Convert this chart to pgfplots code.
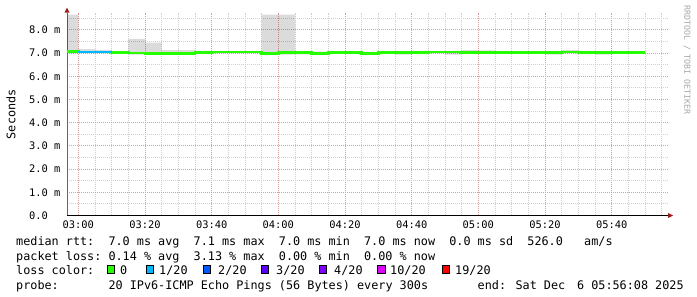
\documentclass[border=0pt]{standalone}
\usepackage{fontspec}
\setmainfont{DejaVu Sans Mono}
\setmonofont{DejaVu Sans Mono}
\usepackage{pgfplots}
\usepackage{pgfplotstable}
\pgfplotsset{compat=1.18}
\usetikzlibrary{arrows.meta}

\definecolor{lgreen}{HTML}{26FF00}
\definecolor{c1}{HTML}{00B8FF}
\definecolor{c2}{HTML}{0059FF}
\definecolor{c3}{HTML}{5E00FF}
\definecolor{c4}{HTML}{7E00FF}
\definecolor{c10}{HTML}{DD00FF}
\definecolor{c19}{HTML}{FF0000}
\definecolor{mgridc}{HTML}{E49A9A}
\definecolor{gridc}{HTML}{D0D0D0}
\definecolor{arrowred}{HTML}{9A1E1E}
\definecolor{wm}{HTML}{A8A8A8}

\newcommand\lf{\fontsize{11.8bp}{14bp}\selectfont}
\newcommand\tf{\fontsize{10.4bp}{12bp}\selectfont}

\pgfplotstableread{
t     med   lo    d
-3.4  7.06  6.99  1.67
0     7.06  6.99  1.67
5     7.05  7.00  0.17
10    7.05  7.00  0.14
15    7.03  7.00  0.05
20    7.00  6.94  0.67
25    6.99  6.95  0.50
30    6.99  6.96  0.17
35    6.99  6.96  0.17
40    7.03  6.97  0.12
45    7.04  7.00  0.09
50    7.04  7.00  0.09
55    7.04  7.00  0.08
60    6.98  6.95  1.71
65    7.03  6.93  1.73
70    7.03  6.95  0.12
75    6.98  6.95  0.11
80    7.02  7.00  0.05
85    7.02  7.00  0.05
90    6.98  6.96  0.07
95    7.02  7.00  0.07
100   7.02  6.93  0.12
105   7.03  7.00  0.10
110   7.04  7.00  0.07
115   7.04  6.93  0.14
120   7.03  7.00  0.13
125   7.03  7.00  0.12
130   7.03  7.00  0.05
135   7.02  7.00  0.04
140   7.02  7.00  0.04
145   7.02  6.93  0.12
150   7.04  7.00  0.13
155   7.02  6.98  0.12
160   7.02  6.93  0.11
165   7.02  7.00  0.04
170   7.02  7.00  0.04
}\rtt

\pgfplotsset{
  geom/.style={
    at={(67bp,81.5bp)}, anchor=south west,
    scale only axis, width=601bp, height=202.5bp,
    xmin=-3.4, xmax=176.9, ymin=0, ymax=8.73,
    enlargelimits=false,
  }
}

\begin{document}
\begin{tikzpicture}
\path[use as bounding box] (0bp,0bp) rectangle (697bp,297bp);
\fill[white] (0bp,0bp) rectangle (697bp,297bp);
\begin{axis}[
  geom,
  axis lines*=left,
  x axis line style={draw=black, line width=1bp},
  y axis line style={draw=gray!80!black, line width=1bp},
  major tick length=0pt, minor tick length=0pt,
  xtick={0,20,...,160},
  xticklabels={03:00,03:20,03:40,04:00,04:20,04:40,05:00,05:20,05:40},
  minor xtick={5,10,15,25,30,35,45,50,55,65,70,75,85,90,95,105,110,115,125,130,135,145,150,155,165,170,175},
  ytick={0,1,...,8},
  yticklabels={0.0,1.0 m,2.0 m,3.0 m,4.0 m,5.0 m,6.0 m,7.0 m,8.0 m},
  minor ytick={0.5,1.5,...,8.5},
  grid=both,
  major grid style={draw=mgridc, line width=1bp, dash pattern=on 1bp off 1bp},
  minor grid style={draw=gridc, line width=1bp, dash pattern=on 1bp off 1bp},
  x tick label style={font=\tf, anchor=base, inner sep=0pt, yshift=-12.8bp},
  y tick label style={font=\tf, anchor=west, inner sep=0pt, xshift=-38bp},
  ylabel={Seconds},
  every axis y label/.style={at={(rel axis cs:0,0.5)}, xshift=-56bp, rotate=90, anchor=center, font=\lf},
  stack plots=y,
]
\addplot[const plot mark right, draw=none] table[x=t,y=lo]{\rtt};
\addplot[const plot mark right, fill=black, fill opacity=0.14, draw=none] table[x=t,y=d]{\rtt} \closedcycle;
\end{axis}
\begin{axis}[geom, hide axis]
\addplot[const plot mark right, draw=lgreen, line width=2.6bp] table[x=t,y=med]{\rtt};
\addplot[const plot mark right, draw=c1, line width=2.6bp] coordinates {(0,7.05) (5,7.05) (10,7.05)};
\end{axis}

% axis arrows
\fill[arrowred] (64.5bp,284.3bp) -- (69.5bp,284.3bp) -- (67bp,289.3bp) -- cycle;
\fill[arrowred] (668bp,79bp) -- (668bp,84bp) -- (673bp,81.5bp) -- cycle;

\node[rotate=-90, anchor=center, inner sep=0pt, text=wm, font=\fontsize{8.3bp}{10bp}\selectfont] at (687bp,237bp) {RRDTOOL / TOBI OETIKER};

\begin{scope}[every node/.style={anchor=base west, inner sep=0pt, font=\lf}]
\node at (16bp,51.3bp) {median rtt:};
\node at (108.3bp,51.3bp) {7.0 ms avg};
\node at (193.5bp,51.3bp) {7.1 ms max};
\node at (278.7bp,51.3bp) {7.0 ms min};
\node at (363.9bp,51.3bp) {7.0 ms now};
\node at (449.1bp,51.3bp) {0.0 ms sd};
\node at (527.2bp,51.3bp) {526.0};
\node at (584bp,51.3bp) {am/s};
\node at (16bp,36.8bp) {packet loss:};
\node at (108.3bp,36.8bp) {0.14 \% avg};
\node at (193.5bp,36.8bp) {3.13 \% max};
\node at (278.7bp,36.8bp) {0.00 \% min};
\node at (363.9bp,36.8bp) {0.00 \% now};
\node at (16bp,22.4bp) {loss color:};
\node at (120bp,22.4bp) {0};
\node at (159bp,22.4bp) {1/20};
\node at (218bp,22.4bp) {2/20};
\node at (276bp,22.4bp) {3/20};
\node at (334bp,22.4bp) {4/20};
\node at (390bp,22.4bp) {10/20};
\node at (455bp,22.4bp) {19/20};
\node at (16bp,8.0bp) {probe:};
\node at (108.3bp,8.0bp) {20 IPv6-ICMP Echo Pings (56 Bytes) every 300s};
\node at (477.5bp,8.0bp) {end: Sat Dec};
\node at (576.9bp,8.0bp) {6 05:56:08 2025};
\end{scope}

\begin{scope}[line width=0.8bp]
\filldraw[fill=lgreen, draw=black] (107bp,23.7bp) rectangle (114.5bp,31.2bp);
\filldraw[fill=c1, draw=black] (146bp,23.7bp) rectangle (153.5bp,31.2bp);
\filldraw[fill=c2, draw=black] (203bp,23.7bp) rectangle (210.5bp,31.2bp);
\filldraw[fill=c3, draw=black] (261bp,23.7bp) rectangle (268.5bp,31.2bp);
\filldraw[fill=c4, draw=black] (319bp,23.7bp) rectangle (326.5bp,31.2bp);
\filldraw[fill=c10, draw=black] (377.7bp,23.7bp) rectangle (385.2bp,31.2bp);
\filldraw[fill=c19, draw=black] (442bp,23.7bp) rectangle (449.5bp,31.2bp);
\end{scope}
\end{tikzpicture}
\end{document}
